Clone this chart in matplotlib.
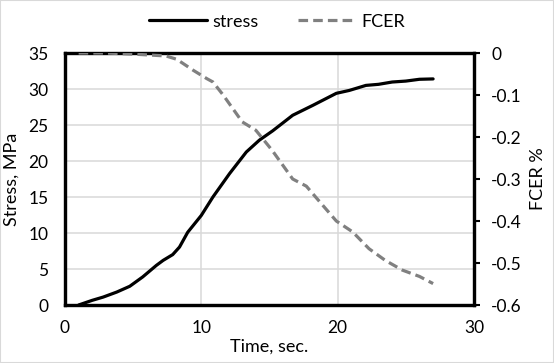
import matplotlib.pyplot as plt
from matplotlib.patches import Rectangle

plt.rcParams['font.family'] = ['Lato', 'DejaVu Sans']
plt.rcParams['axes.unicode_minus'] = False

# stress curve (time in s, stress in MPa)
stress_time = [1, 2, 2.8, 3.8, 4.75, 5.7, 6.7, 7.2, 7.9, 8.4, 9.0, 10.0, 10.85,
               12.07, 13.3, 14.26, 15.24, 16.7, 18.2, 19.9, 20.85, 22.07, 23.0,
               24.0, 25.0, 26.0, 27.0]
stress = [0, 0.65, 1.1, 1.8, 2.6, 3.9, 5.5, 6.2, 7.0, 8.05, 10.1, 12.45, 15.0,
          18.25, 21.25, 22.9, 24.2, 26.35, 27.75, 29.4, 29.8, 30.5, 30.65,
          30.97, 31.1, 31.35, 31.4]

# FCER curve (time in s, %)
fcer_time = [1, 3, 5.2, 7.4, 8.2, 9.4, 10.4, 10.85, 11.6, 13.0, 14.0, 15.2,
             16.7, 17.7, 18.65, 19.9, 21.1, 22.3, 23.5, 24.75, 26.0, 27.0]
fcer = [0, 0, -0.003, -0.007, -0.015, -0.041, -0.061, -0.069, -0.10, -0.164,
        -0.184, -0.232, -0.30, -0.317, -0.353, -0.40, -0.426, -0.466, -0.494,
        -0.517, -0.532, -0.549]

x_ticks = [0, 10, 20, 30]
left_ticks = [0, 5, 10, 15, 20, 25, 30, 35]
right_ticks = [0, -0.1, -0.2, -0.3, -0.4, -0.5, -0.6]

fig = plt.figure(figsize=(5.54, 3.63), dpi=100)
ax = fig.add_axes([65 / 554, 58 / 363, 409 / 554, 252 / 363])
ax2 = ax.twinx()

grid_c = '#d9d9d9'
line_s, = ax.plot(stress_time, stress, color='black', lw=2.3, label='stress',
                  solid_capstyle='round', zorder=3)
line_f, = ax2.plot(fcer_time, fcer, color='#808080', lw=2.3, label='FCER',
                   dashes=(3, 1.6), zorder=3)

ax.set_xlim(0, 30)
ax.set_ylim(0, 35)
ax2.set_ylim(-0.6, 0)
ax.set_xticks(x_ticks)
ax.set_yticks(left_ticks)
ax2.set_yticks(right_ticks)
ax2.set_yticklabels([f'{v:g}' for v in right_ticks])

ax.grid(True, color=grid_c, lw=1.1)
ax.set_axisbelow(True)

ax.tick_params(axis='both', length=0, labelsize=12.5, pad=11)
ax.tick_params(axis='y', pad=12)
ax2.tick_params(axis='y', direction='out', length=4.5, width=1.5,
                labelsize=12.5, pad=8)

for a in (ax, ax2):
    for sp in a.spines.values():
        sp.set_linewidth(2.3)
        sp.set_color('black')

ax.set_xlabel('Time, sec.', fontsize=13, labelpad=2)
ax.set_ylabel('Stress, MPa', fontsize=13, labelpad=6)
ax2.set_ylabel('FCER %', fontsize=13, rotation=90, labelpad=6)

fig.legend(handles=[line_s, line_f], loc='center', bbox_to_anchor=(0.5, 0.94),
           ncol=2, frameon=False, fontsize=13, handlelength=3.2,
           handletextpad=0.3, columnspacing=2.2)

# light chart border
fig.patches.append(Rectangle((0, 0), 1, 1, transform=fig.transFigure,
                             fill=False, edgecolor=grid_c, lw=1.5))

fig.savefig('out.png', dpi=100)
